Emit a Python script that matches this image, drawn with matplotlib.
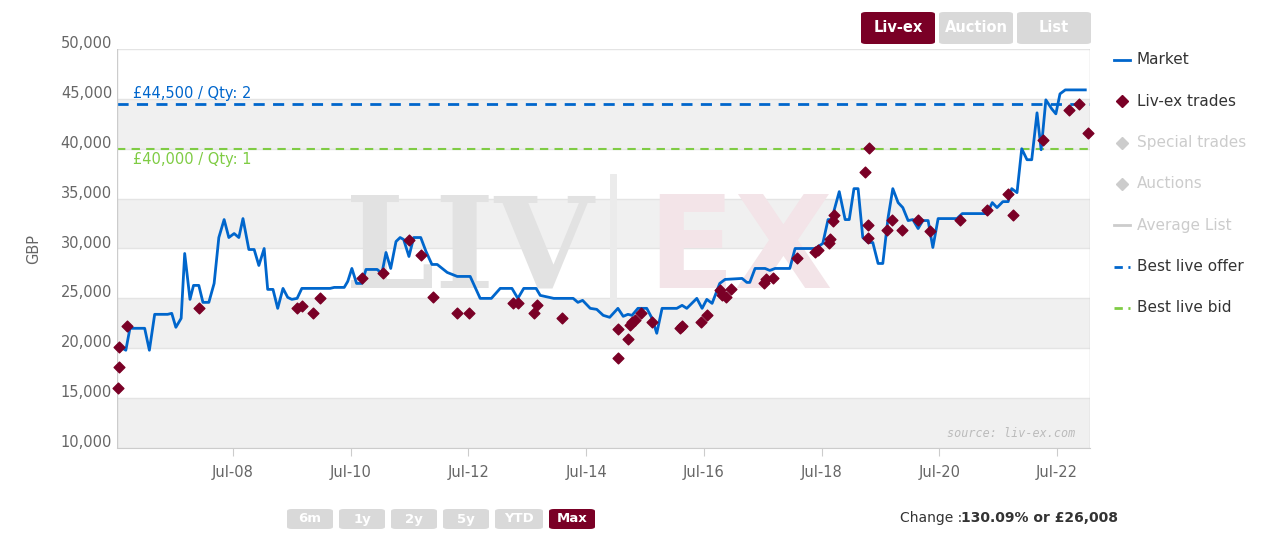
import matplotlib.pyplot as plt
import matplotlib.transforms as mtransforms
from matplotlib.lines import Line2D
from matplotlib.patches import FancyBboxPatch

# market line (decimal year, GBP)
market_x = [2006.53, 2006.60, 2006.68, 2006.75, 2007.0, 2007.08, 2007.17, 2007.39, 2007.46, 2007.53,
            2007.62, 2007.68, 2007.77, 2007.83, 2007.92, 2007.99, 2008.09, 2008.18, 2008.26, 2008.35,
            2008.43, 2008.52, 2008.60, 2008.67, 2008.77, 2008.86, 2008.94, 2009.03, 2009.09, 2009.18,
            2009.26, 2009.35, 2009.43, 2009.50, 2009.59, 2009.67, 2010.15, 2010.22, 2010.39, 2010.45,
            2010.52, 2010.60, 2010.69, 2010.76, 2010.95, 2011.03, 2011.10, 2011.18, 2011.27, 2011.34,
            2011.40, 2011.49, 2011.57, 2011.69, 2011.78, 2011.88, 2011.97, 2012.14, 2012.31, 2012.53,
            2012.60, 2012.70, 2012.89, 2013.04, 2013.24, 2013.34, 2013.44, 2013.65, 2013.72, 2013.95,
            2014.28, 2014.36, 2014.44, 2014.57, 2014.68, 2014.79, 2014.90, 2015.04, 2015.13, 2015.21,
            2015.28, 2015.38, 2015.53, 2015.62, 2015.70, 2015.79, 2016.04, 2016.13, 2016.21, 2016.38,
            2016.47, 2016.55, 2016.64, 2016.77, 2016.86, 2017.15, 2017.23, 2017.28, 2017.37, 2017.54,
            2017.62, 2017.71, 2017.96, 2018.05, 2018.39, 2018.52, 2018.61, 2018.67, 2018.80, 2018.90,
            2018.97, 2019.05, 2019.12, 2019.20, 2019.29, 2019.37, 2019.46, 2019.54, 2019.63, 2019.71,
            2019.80, 2019.88, 2019.97, 2020.05, 2020.14, 2020.22, 2020.31, 2020.39, 2020.48, 2020.80,
            2020.89, 2021.31, 2021.40, 2021.48, 2021.58, 2021.67, 2021.73, 2021.82, 2021.90, 2021.99,
            2022.07, 2022.16, 2022.23, 2022.31, 2022.41, 2022.48, 2022.55, 2022.64, 2022.98]
market_y = [20300, 20100, 19800, 22000, 22000, 19800, 23400, 23400, 23500, 22100,
            23000, 29500, 24900, 26300, 26300, 24600, 24600, 26500, 31100, 32900,
            31100, 31500, 31100, 33000, 29900, 29900, 28300, 30000, 25900, 25900,
            24000, 26000, 25100, 24900, 25000, 26000, 26000, 26100, 26100, 26700,
            28000, 26500, 26500, 27900, 27900, 27500, 29600, 28000, 30700, 31100,
            30900, 29200, 31100, 31100, 29700, 28400, 28400, 27600, 27200, 27200,
            26300, 25000, 25000, 26000, 26000, 25000, 26000, 26000, 25300, 25000,
            25000, 24600, 24800, 24000, 23900, 23300, 23100, 24000, 23200, 23400,
            23300, 24000, 24000, 23000, 21500, 24000, 24000, 24300, 24000, 25000,
            24000, 24900, 24500, 26500, 26900, 27000, 26600, 26600, 28000, 28000,
            27800, 28000, 28000, 30000, 30000, 30500, 32900, 32900, 35700, 32900,
            32900, 36000, 36000, 31100, 30600, 30600, 28500, 28500, 33100, 36000,
            34600, 34100, 32800, 32900, 32000, 32800, 32800, 30100, 33000, 33000,
            33500, 33500, 34600, 34100, 34700, 34700, 36000, 35600, 40000, 38900,
            38900, 43600, 39900, 44900, 44000, 43500, 45500, 45900, 45900]

trade_x = [2006.55, 2006.56, 2006.56, 2006.70, 2007.92, 2009.59, 2009.67, 2009.86, 2009.98, 2010.69,
           2011.05, 2011.49, 2011.69, 2011.90, 2012.31, 2012.51, 2013.26, 2013.34, 2013.61, 2013.66,
           2014.09, 2015.04, 2015.04, 2015.21, 2015.24, 2015.28, 2015.33, 2015.43, 2015.62, 2016.09,
           2016.13, 2016.45, 2016.55, 2016.77, 2016.81, 2016.88, 2016.96, 2017.52, 2017.56, 2017.67,
           2018.08, 2018.39, 2018.44, 2018.63, 2018.64, 2018.69, 2018.71, 2019.24, 2019.31, 2019.29,
           2019.29, 2019.61, 2019.70, 2019.87, 2020.14, 2020.34, 2020.85, 2021.31, 2021.67, 2021.75,
           2022.26, 2022.70, 2022.87, 2023.02]
trade_y = [16000, 18100, 20100, 22200, 24000, 24000, 24200, 23500, 25000, 27000,
           27500, 30900, 29300, 25100, 23500, 23500, 24500, 24500, 23500, 24300,
           23000, 19000, 21900, 20900, 22300, 22600, 22800, 23500, 22600, 22000,
           22200, 22600, 23300, 25800, 25300, 25100, 25900, 26500, 26900, 27000,
           29000, 29600, 29800, 30600, 31000, 32800, 33400, 37700, 40100, 32400,
           31100, 31900, 32900, 31900, 32900, 31800, 32900, 33900, 35500, 33400,
           40900, 43900, 44500, 41600]

offer_level = 44500
bid_level = 40000
offer_label = "£44,500 / Qty: 2"
bid_label = "£40,000 / Qty: 1"
xtick_years = [2008, 2010, 2012, 2014, 2016, 2018, 2020, 2022]
xtick_labels = ["Jul-08", "Jul-10", "Jul-12", "Jul-14", "Jul-16", "Jul-18", "Jul-20", "Jul-22"]
yticks = [10000, 15000, 20000, 25000, 30000, 35000, 40000, 45000, 50000]

BLUE = "#0066cc"
MAROON = "#7a0026"
GREEN = "#7fcc44"

fig = plt.figure(figsize=(12.75, 5.35), dpi=100)
ax = fig.add_axes([117 / 1275, 1 - 448 / 535, (1090 - 117) / 1275, (448 - 49) / 535])
ax.set_xlim(2006.53, 2023.06)
ax.set_ylim(10000, 50000)

for lo in [10000, 20000, 30000, 40000]:
    ax.axhspan(lo, lo + 5000, color="#f0f0f0", zorder=0, lw=0)
for v in yticks:
    ax.axhline(v, color="#e4e4e4", lw=1, zorder=0.5)

# watermark
ax.text(0.49, 0.49, "LIV", transform=ax.transAxes, fontsize=92, family="DejaVu Serif",
        color="#e2e2e2", ha="right", va="center", fontweight="bold", zorder=0.6)
ax.text(0.545, 0.49, "EX", transform=ax.transAxes, fontsize=92, family="DejaVu Sans",
        color="#f3e4e8", ha="left", va="center", fontweight="bold", zorder=0.6)
ax.plot([0.5095, 0.5095], [0.315, 0.68], transform=ax.transAxes, color="#ebebeb", lw=5, zorder=0.6)

ax.axhline(offer_level, color=BLUE, lw=2, ls=(0, (4, 3)), zorder=2)
ax.axhline(bid_level, color=GREEN, lw=1.5, ls=(0, (4, 3)), zorder=2)
ax.text(2006.8, offer_level + 250, offer_label, color=BLUE, fontsize=10.5, va="bottom")
ax.text(2006.8, bid_level - 350, bid_label, color=GREEN, fontsize=10.5, va="top")

ax.plot(market_x, market_y, color=BLUE, lw=2, zorder=3)
ax.scatter(trade_x, trade_y, marker="D", s=30, color=MAROON, zorder=4, clip_on=False)

ax.set_xticks([y + 0.5 for y in xtick_years])
ax.set_xticklabels(xtick_labels)
ax.set_yticks(yticks)
ax.set_yticklabels([f"{v:,}" for v in yticks])
ax.tick_params(colors="#666666", labelsize=10.5, length=0)
ax.tick_params(axis="x", length=6, color="#cccccc", pad=6)
shift = mtransforms.ScaledTranslation(0, 5 / 72, fig.dpi_scale_trans)
for lbl in ax.get_yticklabels():
    lbl.set_transform(lbl.get_transform() + shift)
ax.set_ylabel("GBP", color="#666666", fontsize=10.5, labelpad=14)
for s in ["top", "right", "left"]:
    ax.spines[s].set_visible(False)
ax.spines["bottom"].set_color("#cccccc")
ax.axvline(2006.53, color="#cccccc", lw=1)
ax.axvline(2023.06, color="#cccccc", lw=1)
ax.text(0.985, 0.02, "source: liv-ex.com", transform=ax.transAxes, ha="right", va="bottom",
        fontsize=8.5, style="italic", color="#bbbbbb", family="DejaVu Sans Mono")

# legend on the right
legend_items = [("Market", "line", BLUE, "#333333"),
                ("Liv-ex trades", "diamond", MAROON, "#333333"),
                ("Special trades", "diamond", "#cccccc", "#cccccc"),
                ("Auctions", "diamond", "#cccccc", "#cccccc"),
                ("Average List", "line", "#cccccc", "#cccccc"),
                ("Best live offer", "dash", BLUE, "#333333"),
                ("Best live bid", "dash", GREEN, "#333333")]
for i, (lab, kind, col, tcol) in enumerate(legend_items):
    yy = 1 - (60 + i * 41.3) / 535
    x0, x1 = 1114 / 1275, 1130 / 1275
    if kind == "diamond":
        fig.add_artist(Line2D([(x0 + x1) / 2], [yy], marker="D", ms=6, color=col, ls="none"))
    elif kind == "dash":
        fig.add_artist(Line2D([x0, x1], [yy, yy], color=col, lw=2, ls="--", dashes=(3, 2)))
    else:
        fig.add_artist(Line2D([x0, x1], [yy, yy], color=col, lw=2))
    fig.text(1137 / 1275, yy, lab, color=tcol, fontsize=11, va="center")


def button(x, y, w, h, label, active):
    fig.add_artist(FancyBboxPatch((x / 1275, 1 - (y + h) / 535), w / 1275, h / 535,
                                  boxstyle="round,pad=0,rounding_size=0.004",
                                  fc=MAROON if active else "#d9d9d9", ec="none"))
    fig.text((x + w / 2) / 1275, 1 - (y + h / 2) / 535, label, ha="center", va="center",
             fontsize=10.5 if y < 100 else 9.5, fontweight="bold", color="white")


button(861, 12, 74, 32, "Liv-ex", True)
button(939, 12, 74, 32, "Auction", False)
button(1017, 12, 74, 32, "List", False)
for lab, x, w in [("6m", 287, 46), ("1y", 339, 46), ("2y", 391, 46), ("5y", 443, 46),
                  ("YTD", 495, 48), ("Max", 549, 46)]:
    button(x, 509, w, 20, lab, lab == "Max")

fig.text(900 / 1275, 1 - 518 / 535, "Change :", fontsize=10, color="#333333", va="center")
fig.text(1118 / 1275, 1 - 518 / 535, "130.09% or £26,008", fontsize=10, color="#333333",
         va="center", ha="right", fontweight="bold")

fig.savefig("out.png", dpi=100, facecolor="white")
